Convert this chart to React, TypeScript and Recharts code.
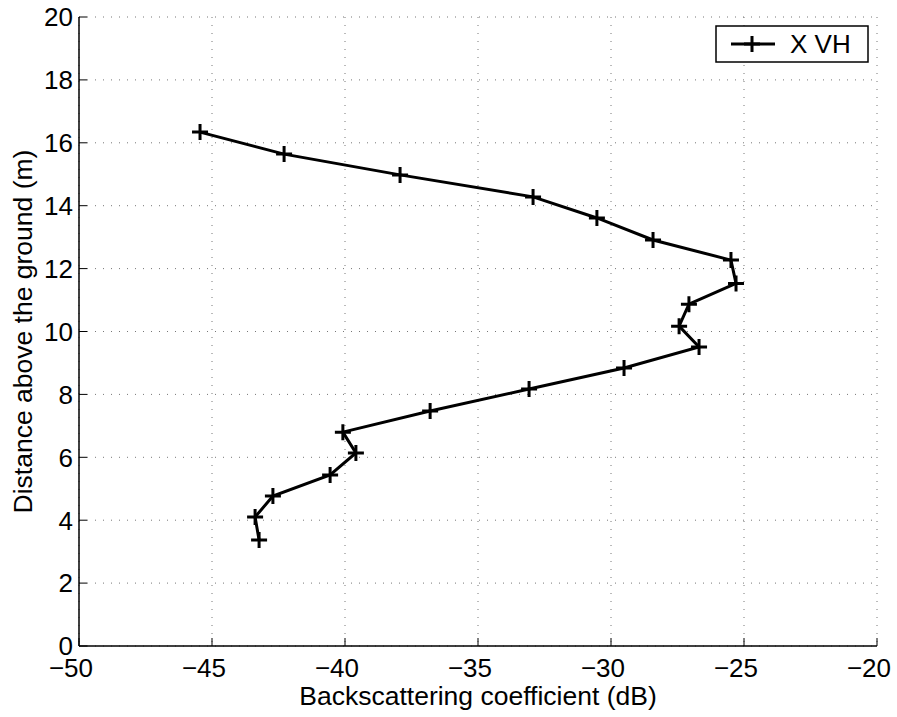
import React from "react";
import { LineChart, Line, XAxis, YAxis, CartesianGrid } from "recharts";

const backscatter = [
  -45.45, -42.29, -37.93, -32.93, -30.53, -28.42, -25.49, -25.3, -27.07, -27.44,
  -26.69, -29.51, -33.08, -36.8, -40.08, -39.59, -40.56, -42.71, -43.38, -43.23,
];
const heights = [
  16.34, 15.64, 14.98, 14.28, 13.61, 12.91, 12.27, 11.53, 10.87, 10.17,
  9.51, 8.84, 8.17, 7.47, 6.8, 6.14, 5.44, 4.77, 4.1, 3.37,
];
const xTicks = [-50, -45, -40, -35, -30, -25, -20];
const yTicks = [0, 2, 4, 6, 8, 10, 12, 14, 16, 18, 20];
const seriesName = "X VH";
const xLabel = "Backscattering coefficient (dB)";
const yLabel = "Distance above the ground (m)";

const data = backscatter.map((x, i) => ({ x, y: heights[i] }));

const FONT = "'Liberation Sans', Arial, Helvetica, sans-serif";
const TICK_FS = 26;
const LABEL_FS = 26.5;
const fmt = (v: number) => (v < 0 ? "\u2212" + Math.abs(v) : String(v));

const PlusDot = (props: any) => {
  const { cx, cy, index } = props;
  if (cx == null || cy == null) return <g key={index} />;
  const s = 8;
  return (
    <path
      key={index}
      d={`M${cx - s},${cy}H${cx + s}M${cx},${cy - s}V${cy + s}`}
      stroke="#000"
      strokeWidth={3}
      fill="none"
    />
  );
};

const XTick = (props: any) => {
  const { x, y, payload } = props;
  const shift = payload.value < 0 ? 8 : 0;
  return (
    <g>
      <line x1={x} y1={y} x2={x} y2={y - 8} stroke="#000" strokeWidth={1} />
      <text x={x - shift} y={y + 31} textAnchor="middle" fontFamily={FONT} fontSize={TICK_FS} fill="#000">
        {fmt(payload.value)}
      </text>
    </g>
  );
};

const YTick = (props: any) => {
  const { x, y, payload } = props;
  return (
    <g>
      <line x1={x} y1={y} x2={x + 8} y2={y} stroke="#000" strokeWidth={1} />
      <text x={x - 6} y={y + 9.3} textAnchor="end" fontFamily={FONT} fontSize={TICK_FS} fill="#000">
        {fmt(payload.value)}
      </text>
    </g>
  );
};

const LegendBox = () => (
  <svg width={156} height={40} style={{ display: "block" }}>
    <rect x={1} y={1} width={152} height={36} fill="#fff" stroke="#000" strokeWidth={1.5} />
    <line x1={16} y1={19} x2={60} y2={19} stroke="#000" strokeWidth={3} />
    <path d="M37,11V27M29,19H45" stroke="#000" strokeWidth={3} />
    <text x={75} y={28} fontFamily={FONT} fontSize={TICK_FS} fill="#000">
      {seriesName}
    </text>
  </svg>
);

export default function App() {
  return (
    <div style={{ position: "absolute", left: 0, top: 0, width: 897, height: 717, background: "#fff" }}>
      <LineChart
        width={897}
        height={717}
        data={data}
        margin={{ top: 17, right: 20, bottom: 0, left: 0 }}
      >
        <CartesianGrid
          stroke="#777"
          strokeDasharray="1 7"
          horizontalValues={yTicks}
          verticalValues={xTicks}
        />
        <XAxis
          type="number"
          dataKey="x"
          domain={[-50, -20]}
          ticks={xTicks}
          interval={0}
          height={71}
          tickSize={0}
          tickMargin={0}
          tickLine={false}
          axisLine={{ stroke: "#000", strokeWidth: 1.5 }}
          tick={<XTick />}
          allowDataOverflow
          label={(p: any) => {
            const vb = p.viewBox || {};
            return (
              <text
                x={vb.x + vb.width / 2}
                y={vb.y + 59}
                textAnchor="middle"
                fontFamily={FONT}
                fontSize={LABEL_FS}
                fill="#000"
              >
                {xLabel}
              </text>
            );
          }}
        />
        <YAxis
          type="number"
          dataKey="y"
          domain={[0, 20]}
          ticks={yTicks}
          interval={0}
          width={79}
          tickSize={0}
          tickMargin={0}
          tickLine={false}
          axisLine={{ stroke: "#000", strokeWidth: 1.5 }}
          tick={<YTick />}
          allowDataOverflow
          label={(p: any) => {
            const vb = p.viewBox || {};
            const cy = vb.y + vb.height / 2;
            return (
              <text
                x={32}
                y={cy}
                transform={`rotate(-90, 32, ${cy})`}
                textAnchor="middle"
                fontFamily={FONT}
                fontSize={LABEL_FS}
                fill="#000"
              >
                {yLabel}
              </text>
            );
          }}
        />
        <Line
          type="linear"
          dataKey="y"
          name={seriesName}
          stroke="#000"
          strokeWidth={3}
          dot={PlusDot}
          activeDot={false}
          isAnimationActive={false}
        />
      </LineChart>
      <div style={{ position: "absolute", left: 715, top: 25 }}>
        <LegendBox />
      </div>
    </div>
  );
}
